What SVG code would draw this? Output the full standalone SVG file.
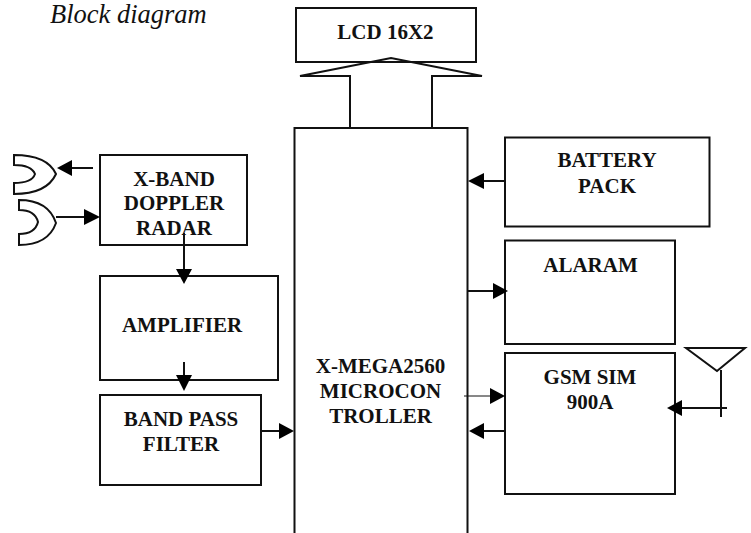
<svg xmlns="http://www.w3.org/2000/svg" width="751" height="533" viewBox="0 0 751 533">
<style>
.b{fill:#fff;stroke:#111;stroke-width:2}
.l{fill:none;stroke:#111;stroke-width:2}
.h{fill:#000;stroke:none}
text{font-family:"Liberation Serif","Times New Roman",serif;fill:#111}
.t{font-size:21px;font-weight:bold;text-anchor:middle}
.c{font-size:26.5px;font-style:italic}
</style>
<rect width="751" height="533" fill="#fff"/>
<text class="c" x="50" y="23">Block diagram</text>
<g id="lcd"><rect class="b" x="296" y="8" width="180" height="54"/><text class="t" x="385.5" y="39">LCD 16X2</text></g>
<g id="mcu"><path class="b" d="M294.500 533V128H467.500V533"/><text class="t"><tspan x="380.500" y="373">X-MEGA2560</tspan><tspan x="380.500" y="398">MICROCON</tspan><tspan x="380.500" y="423">TROLLER</tspan></text></g>
<g id="radar"><rect class="b" x="100" y="155" width="147" height="90"/><text class="t"><tspan x="174" y="186">X-BAND</tspan><tspan x="174" y="210">DOPPLER</tspan><tspan x="174" y="235">RADAR</tspan></text></g>
<g id="amplifier"><rect class="b" x="100" y="276" width="178" height="104"/><text class="t" x="182" y="332">AMPLIFIER</text></g>
<g id="bandpass"><rect class="b" x="100" y="395" width="161" height="90"/><text class="t"><tspan x="181" y="426">BAND PASS</tspan><tspan x="181" y="451">FILTER</tspan></text></g>
<g id="battery"><rect class="b" x="505" y="137.500" width="204.500" height="89"/><text class="t"><tspan x="607" y="167">BATTERY</tspan><tspan x="607" y="193">PACK</tspan></text></g>
<g id="alaram"><rect class="b" x="505" y="240.500" width="170" height="103.500"/><text class="t" x="590.500" y="272">ALARAM</text></g>
<g id="gsm"><rect class="b" x="505" y="353" width="170" height="141"/><text class="t"><tspan x="590" y="384">GSM SIM</tspan><tspan x="590" y="409">900A</tspan></text></g>
<g id="horn-tx"><path class="l" d="M14 155C36 155 50 161 56 174C50 187 36 194 14 194V183C26 183 33 180 35 174C33 169 26 165 14 165Z"/></g>
<g id="horn-rx"><path class="l" d="M19 200C40 200 51 208 56 223C51 237 40 245 19 245V234C30 234 36 230 38 222C36 214 30 210 19 210Z"/></g>
<g id="antenna"><path class="l" d="M686 348H745L717 371ZM721 370V417"/></g>
<g id="connectors">
<path class="l" d="M350 128V76H300L391 58L482 76H432V128"/>
<path class="l" d="M93 168H70M56 217H86M184 233V272M184 362V378M261 431H282M505 181H482M468 291H496M505 431H482M727 408H680"/>
<path fill="none" stroke="#111" d="M464 396H492"/>
<path class="h" d="M57 168L72 160V176ZM100 217L84 209V225ZM184 284L176 269H192ZM184 391L176 375H192ZM294 431L279 423V439ZM468 181L484 173V189ZM508 291L493 283V299ZM505 396L490 388V404ZM469 431L484 423V439ZM667 408L682 400V416Z"/>
</g>
</svg>
